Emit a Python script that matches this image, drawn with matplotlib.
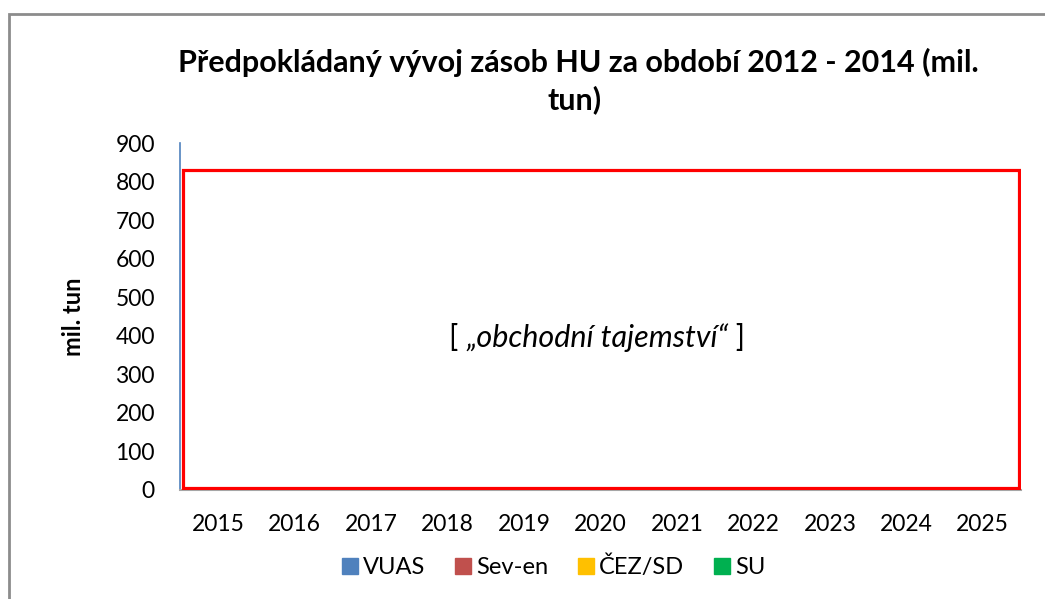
import matplotlib
matplotlib.use("Agg")
import matplotlib.pyplot as plt
import numpy as np
from matplotlib.patches import Rectangle
from matplotlib.lines import Line2D

plt.rcParams['font.family'] = ['Lato', 'DejaVu Sans']

years = ['2015', '2016', '2017', '2018', '2019', '2020', '2021', '2022', '2023', '2024', '2025']
series_names = ['VUAS', 'Sev-en', 'ČEZ/SD', 'SU']
series_colors = ['#4F81BD', '#C0504D', '#FFC000', '#00B050']
# values are hidden ("obchodní tajemství") – shown as zero
vuas = [0] * 11
seven = [0] * 11
cez = [0] * 11
su = [0] * 11
values = [vuas, seven, cez, su]
yticks = [0, 100, 200, 300, 400, 500, 600, 700, 800, 900]

fig = plt.figure(figsize=(10.45, 5.99), dpi=100)
ax = fig.add_axes([180/1045, 1-490/599, 841/1045, 347/599])

x = np.arange(len(years))
bottom = np.zeros(len(years))
for vals, name, col in zip(values, series_names, series_colors):
    ax.bar(x, vals, 0.6, bottom=bottom, color=col, label=name)
    bottom += np.array(vals)

ax.set_xlim(-0.5, len(years) - 0.5)
ax.set_ylim(0, 900)
ax.set_yticks(yticks)
ax.set_yticklabels([str(v) for v in yticks], fontsize=16.5)
ax.set_xticks(x)
ax.set_xticklabels(years, fontsize=16.5)
ax.tick_params(axis='both', length=0)
ax.tick_params(axis='x', pad=17)
ax.tick_params(axis='y', pad=18)
for s in ['top', 'right']:
    ax.spines[s].set_visible(False)
ax.spines['left'].set_color('#4F81BD')
ax.spines['left'].set_linewidth(1.2)
ax.spines['bottom'].set_color('#A6A6A6')
ax.spines['bottom'].set_linewidth(1.5)

ax.set_ylabel('mil. tun', fontsize=17, fontweight='bold', labelpad=22)

# red overlay box
ax.add_patch(Rectangle((0.004, 0.006), 0.994, 0.916, transform=ax.transAxes,
                       fill=False, edgecolor='#FF0000', linewidth=2.3, zorder=5))

# centered text with italic middle part
ty = 0.438
mid = ax.text(0.496, ty, '„obchodní tajemství“', transform=ax.transAxes,
              fontsize=22, fontstyle='italic', ha='center', va='center')
fig.canvas.draw()
bb = mid.get_window_extent()
inv = ax.transAxes.inverted()
l = inv.transform((bb.x0, 0))[0]
r = inv.transform((bb.x1, 0))[0]
ax.text(l, ty, '[ ', transform=ax.transAxes, fontsize=22, ha='right', va='center')
ax.text(r, ty, ' ]', transform=ax.transAxes, fontsize=22, ha='left', va='center')

fig.text(578/1045, 1-62/599, 'Předpokládaný vývoj zásob HU za období 2012 - 2014 (mil.',
         fontsize=22, fontweight='bold', ha='center', va='center')
fig.text(575/1045, 1-100/599, 'tun)', fontsize=22, fontweight='bold', ha='center', va='center')

handles = [Line2D([], [], marker='s', linestyle='none', markersize=11,
                  markerfacecolor=c, markeredgecolor=c) for c in series_colors]
fig.legend(handles, series_names, loc='center', bbox_to_anchor=(552/1045, 1-567/599),
           ncol=4, frameon=False, fontsize=17, handletextpad=0.05, columnspacing=1.1,
           handlelength=1.0)

# outer chart border
fig.add_artist(Rectangle((9/1045, -0.05), 1.1, 1-13.5/599 + 0.05, transform=fig.transFigure,
                         fill=False, edgecolor='#8C8C8C', linewidth=2))

fig.savefig('out.png', dpi=100)
